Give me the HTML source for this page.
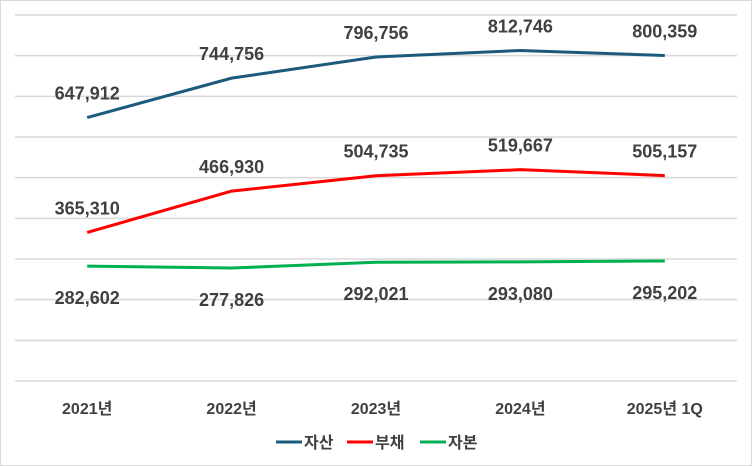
<!DOCTYPE html>
<html><head><meta charset="utf-8"><style>
html,body{margin:0;padding:0;background:#fff;}
svg{display:block;font-family:"Liberation Sans","Noto Sans CJK KR",sans-serif;}
</style></head><body>
<svg id="chart" width="752" height="466">
<rect x="0.5" y="0.5" width="751" height="465" fill="#fff" stroke="#d9d9d9"/>
<g id="grid"></g><g id="series"></g><g id="labels"></g><g id="xaxis"></g>
<g id="legend">
<line x1="276" y1="442" x2="302" y2="442" stroke="#1c5a7d" stroke-width="3"/>
<text x="304" y="448" font-size="16" font-weight="bold" fill="#404040">자산</text>
<line x1="347" y1="442" x2="373" y2="442" stroke="#ff0000" stroke-width="3"/>
<text x="375" y="448" font-size="16" font-weight="bold" fill="#404040">부채</text>
<line x1="420" y1="442" x2="446" y2="442" stroke="#00b050" stroke-width="3"/>
<text x="448" y="448" font-size="16" font-weight="bold" fill="#404040">자본</text>
</g>
</svg>
<script>
const categories=["2021년","2022년","2023년","2024년","2025년 1Q"];
const assets=[647912,744756,796756,812746,800359];
const liabilities=[365310,466930,504735,519667,505157];
const equity=[282602,277826,292021,293080,295202];
const yTicks=[0,100000,200000,300000,400000,500000,600000,700000,800000,900000];
const NS="http://www.w3.org/2000/svg";
const L=15,R=737,T=15,B=381,yMax=900000;
const x=i=>L+(R-L)/categories.length*(i+0.5);
const y=v=>B-(v/yMax)*(B-T);
function mk(tag,attrs,parent){const e=document.createElementNS(NS,tag);for(const k in attrs)e.setAttribute(k,attrs[k]);document.getElementById(parent).appendChild(e);return e;}
yTicks.forEach(t=>{
 const g=mk('line',{x1:L,x2:R,y1:y(t),y2:y(t),stroke:'#d9d9d9','stroke-width':1.5},'grid');
 
 
});
categories.forEach((c,i)=>{
 const t=mk('text',{x:x(i),y:414,'text-anchor':'middle','font-size':16,'font-weight':'bold',fill:'#404040'},'xaxis');
 t.textContent=c;
 
 
});
const fmt=v=>v.toLocaleString('en-US');
[[assets,'#1c5a7d','asset',-24],[liabilities,'#ff0000','liability',-24],[equity,'#00b050','equity',32]].forEach(([d,col,nm,off])=>{
 const p=mk('polyline',{points:d.map((v,i)=>x(i)+','+y(v)).join(' '),fill:'none',stroke:col,'stroke-width':3,'stroke-linejoin':'round'},'series');
 
 
 d.forEach((v,i)=>{
  const t=mk('text',{x:x(i),y:y(v)+off+6,'text-anchor':'middle','font-size':18,'font-weight':'bold',fill:'#404040'},'labels');
  t.textContent=fmt(v);
  
  
 });
});
</script>
</body></html>
